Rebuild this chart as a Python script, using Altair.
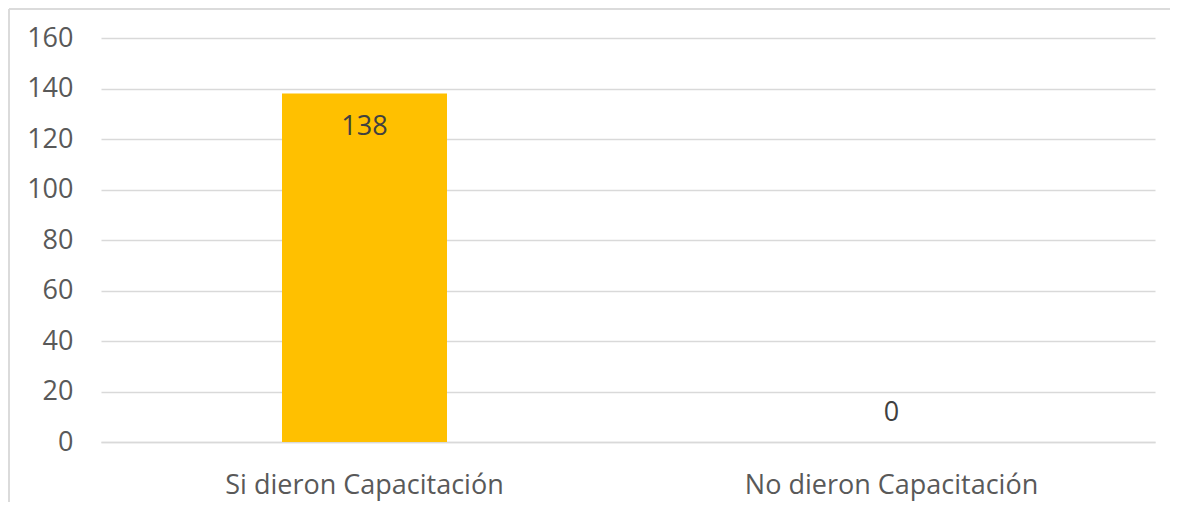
import altair as alt
import pandas as pd

categories = ["Si dieron Capacitación", "No dieron Capacitación"]
values = [138, 0]
y_ticks = [0, 20, 40, 60, 80, 100, 120, 140, 160]

df = pd.DataFrame({"cat": categories, "val": values})

FONT = "Open Sans"
FS = 27
W, H = 1054, 404

x_enc = alt.X("cat:N", sort=categories, title=None,
              scale=alt.Scale(paddingInner=0, paddingOuter=0),
              axis=alt.Axis(labelAngle=0, labelFontSize=FS, labelFont=FONT,
                            labelColor="#595959", labelPadding=30, ticks=False,
                            labelLimit=600,
                            domainColor="#d9d9d9", domainWidth=1.3))
y_enc = alt.Y("val:Q", title=None,
              scale=alt.Scale(domain=[0, 160], nice=False),
              axis=alt.Axis(values=y_ticks, labelFontSize=FS, labelFont=FONT,
                            labelColor="#595959", labelPadding=28, ticks=False,
                            domain=False, gridColor="#d9d9d9", gridWidth=1.3))

bars = alt.Chart(df).mark_bar(size=165, color="#FFC000").encode(x=x_enc, y=y_enc)

lab_in = alt.Chart(df).transform_filter("datum.val > 0").mark_text(
    font=FONT, fontSize=FS, color="#404040", baseline="middle", dy=33
).encode(x=alt.X("cat:N", sort=categories), y="val:Q", text="val:Q")

lab_out = alt.Chart(df).transform_filter("datum.val <= 0").mark_text(
    font=FONT, fontSize=FS, color="#404040", baseline="middle", dy=-29
).encode(x=alt.X("cat:N", sort=categories), y="val:Q", text="val:Q")

border_left = alt.Chart(df).mark_rule(color="#d9d9d9", strokeWidth=1.5).encode(
    x=alt.value(-92), y=alt.value(-29), y2=alt.value(480))
border_top = alt.Chart(df).mark_rule(color="#d9d9d9", strokeWidth=1.5).encode(
    x=alt.value(-92), x2=alt.value(1080), y=alt.value(-29))

chart = alt.layer(bars, lab_in, lab_out, border_left, border_top).properties(
    width=W, height=H,
    background="white",
    autosize=alt.AutoSizeParams(type="none"),
    padding={"left": 93, "top": 30, "right": 15, "bottom": 60},
).configure_view(stroke=None)

chart.save("out.html", embed_options={"renderer": "svg", "actions": False})
